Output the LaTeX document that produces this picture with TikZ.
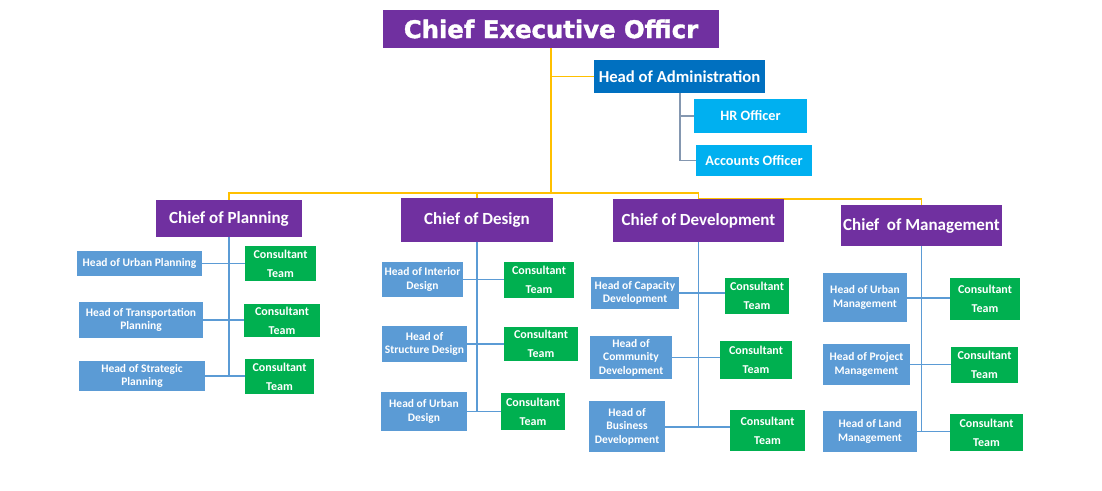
\documentclass[tikz,border=0pt]{standalone}
\usepackage{fontspec}
\setmainfont{Carlito}
\newfontfamily\ceofont[FakeBold=1.5]{DejaVu Sans Bold}
\usetikzlibrary{backgrounds}
\definecolor{cpurple}{HTML}{7030A0}
\definecolor{cadmin}{HTML}{0070C0}
\definecolor{clight}{HTML}{00B0F0}
\definecolor{csteel}{HTML}{5B9BD5}
\definecolor{cgreen}{HTML}{00B050}
\definecolor{cyellow}{HTML}{FFC000}
\definecolor{cline}{HTML}{5B9BD5}
\definecolor{cgrayline}{HTML}{8497B0}
\tikzset{
  box/.style={inner sep=0pt, align=center, text=white, font=\bfseries},
  chiefbox/.style={box, fill=cpurple, font=\bfseries\fontsize{17}{20}\selectfont},
  headbox/.style={box, fill=csteel, font=\bfseries\fontsize{11.5}{13.5}\selectfont},
  teambox/.style={box, fill=cgreen, font=\bfseries\fontsize{12}{19}\selectfont},
  yline/.style={draw=cyellow, line width=1.4pt},
  bline/.style={draw=cline, line width=1.4pt},
  gline/.style={draw=cgrayline, line width=1.2pt},
}
\newcommand{\bx}[7]{\node[#6, minimum width={(#4-#2)*1pt}, minimum height={(#5-#3)*1pt}] (#1) at ({(#2+#4)/2},{(#3+#5)/2}) {#7};}
\begin{document}
\begin{tikzpicture}[x=1pt,y=-1pt]
\useasboundingbox (0,0) rectangle (1102,490);
% top
\bx{ceo}{383}{10}{719}{48}{box, fill=cpurple, font=\ceofont\fontsize{24.3}{27}\selectfont}{Chief Executive Officr}
\bx{ha}{594}{60}{765}{93}{box, fill=cadmin, font=\bfseries\fontsize{16.7}{19}\selectfont}{Head of Administration}
\bx{hr}{694}{99}{807}{133}{box, fill=clight, font=\bfseries\fontsize{14.3}{16}\selectfont}{HR Officer}
\bx{ac}{696}{145}{812}{176}{box, fill=clight, font=\bfseries\fontsize{14.3}{16}\selectfont}{Accounts Officer}
% chiefs
\bx{cp}{156}{200}{302}{237}{chiefbox}{Chief of Planning}
\bx{cd}{401}{198}{553}{242}{chiefbox}{Chief of Design}
\bx{cv}{613}{199}{784}{242}{chiefbox}{Chief of Development}
\bx{cm}{841}{205}{1002}{246}{chiefbox}{Chief\ \ of Management}
% planning
\bx{p1}{77}{251}{202}{276}{headbox}{Head of Urban Planning}
\bx{p2}{79}{302}{203}{338}{headbox}{Head of Transportation\\Planning}
\bx{p3}{79}{361}{205}{391}{headbox}{Head of Strategic\\Planning}
\bx{pt1}{245}{246}{316}{281}{teambox}{Consultant\\Team}
\bx{pt2}{244}{304}{320}{337}{teambox}{Consultant\\Team}
\bx{pt3}{245}{359}{314}{394}{teambox}{Consultant\\Team}
% design
\bx{d1}{382}{262}{463}{297}{headbox}{Head of Interior\\Design}
\bx{d2}{382}{326}{467}{362}{headbox}{Head of\\Structure Design}
\bx{d3}{381}{392}{467}{431}{headbox}{Head of Urban\\Design}
\bx{dt1}{504}{262}{574}{298}{teambox}{Consultant\\Team}
\bx{dt2}{504}{327}{578}{361}{teambox}{Consultant\\Team}
\bx{dt3}{501}{393}{565}{430}{teambox}{Consultant\\Team}
% development
\bx{v1}{591}{277}{679}{309}{headbox}{Head of Capacity\\Development}
\bx{v2}{590}{336}{672}{379}{headbox}{Head of\\Community\\Development}
\bx{v3}{589}{401}{665}{452}{headbox}{Head of\\Business\\Development}
\bx{vt1}{725}{278}{789}{314}{teambox}{Consultant\\Team}
\bx{vt2}{720}{341}{792}{379}{teambox}{Consultant\\Team}
\bx{vt3}{730}{410}{805}{451}{teambox}{Consultant\\Team}
% management
\bx{m1}{823}{273}{907}{322}{headbox}{Head of Urban\\Management}
\bx{m2}{823}{344}{910}{385}{headbox}{Head of Project\\Management}
\bx{m3}{823}{411}{917}{452}{headbox}{Head of Land\\Management}
\bx{mt1}{950}{278}{1020}{320}{teambox}{Consultant\\Team}
\bx{mt2}{951}{347}{1018}{383}{teambox}{Consultant\\Team}
\bx{mt3}{950}{414}{1023}{451}{teambox}{Consultant\\Team}
\begin{pgfonlayer}{background}
\fill[white] (0,0) rectangle (1102,490);
% yellow
\coordinate (j) at (551,193);
\coordinate (j2) at (551,199);
\draw[yline] (ceo.south) -- (j);
\draw[yline] (ceo.south |- ha.west) -- (ha.west);
\draw[yline] (cp.north) -- (cp.north |- j) -- (cv.north |- j) -- (cv.north);
\draw[yline] (cd.north) -- (cd.north |- j);
\draw[yline] (cv.north |- j2) -- (cm.north |- j2) -- (cm.north);
% admin
\coordinate (at) at (680,93);
\draw[gline] (at) -- (at |- ac.west) -- (ac.west);
\draw[gline] (at |- hr.west) -- (hr.west);
% planning
\draw[bline] (cp.south) -- (cp.south |- p3.east);
\draw[bline] (p1.east) -- (pt1.west |- p1.east);
\draw[bline] (p2.east) -- (pt2.west |- p2.east);
\draw[bline] (p3.east) -- (pt3.west |- p3.east);
% design
\draw[bline] (cd.south) -- (cd.south |- d3.east);
\draw[bline] (d1.east) -- (dt1.west |- d1.east);
\draw[bline] (d2.east) -- (dt2.west |- d2.east);
\draw[bline] (d3.east) -- (dt3.west |- d3.east);
% development
\coordinate (vb) at (698.5,427);
\draw[bline] (cv.south) -- (vb);
\draw[bline] (v1.east) -- (vt1.west |- v1.east);
\draw[bline] (v2.east) -- (vt2.west |- v2.east);
\draw[bline] (v3.east |- vb) -- (vt3.west |- vb);
% management
\draw[bline] (cm.south) -- (cm.south |- m3.east);
\draw[bline] (m1.east |- 0,298) -- (mt1.west |- 0,298);
\draw[bline] (m2.east) -- (mt2.west |- m2.east);
\draw[bline] (m3.east) -- (mt3.west |- m3.east);
\end{pgfonlayer}
\end{tikzpicture}
\end{document}
